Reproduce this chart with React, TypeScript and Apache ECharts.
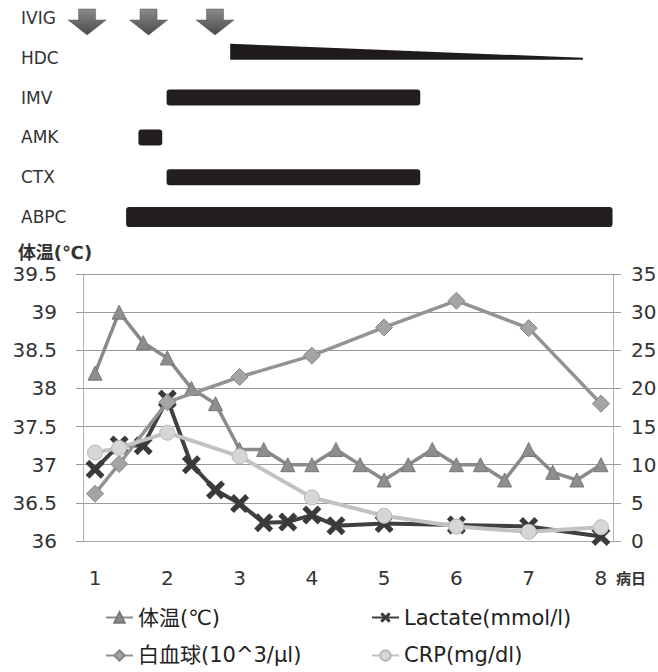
import React, { useEffect, useRef } from 'react';
import * as echarts from 'echarts';

// 22 measurement time points (3 per day, day 8 once)
const timePoints = [
  '1-a', '1-b', '1-c', '2-a', '2-b', '2-c', '3-a', '3-b', '3-c', '4-a', '4-b',
  '4-c', '5-a', '5-b', '5-c', '6-a', '6-b', '6-c', '7-a', '7-b', '7-c', '8-a',
];

const bodyTemp = [38.2, 39.0, 38.6, 38.4, 38.0, 37.8, 37.2, 37.2, 37.0, 37.0, 37.2,
  37.0, 36.8, 37.0, 37.2, 37.0, 37.0, 36.8, 37.2, 36.9, 36.8, 37.0];

const lactate = [9.4, 12.6, 12.5, 18.6, 10.0, 6.7, 4.9, 2.4, 2.5, 3.4, 2.0,
  null, 2.3, null, null, 2.1, null, null, 1.9, null, null, 0.6];

const wbc = [6.2, 10.1, null, 18.2, null, null, 21.5, null, null, 24.3, null,
  null, 28.0, null, null, 31.5, null, null, 27.9, null, null, 18.0];

const crp = [11.6, 12.2, null, 14.2, null, null, 11.1, null, null, 5.7, null,
  null, 3.3, null, null, 1.9, null, null, 1.2, null, null, 1.8];

const seriesNames = ['体温(℃)', 'Lactate(mmol/l)', '白血球(10^3/μl)', 'CRP(mg/dl)'];

// treatment timeline (in day units)
const treatments = ['IVIG', 'HDC', 'IMV', 'AMK', 'CTX', 'ABPC'];
const ivigDays = [0.89, 1.74, 2.66];
const hdcCourse = [2.87, 7.75];
const imvCourse = [1.99, 5.5];
const amkCourse = [1.6, 1.93];
const ctxCourse = [1.99, 5.5];
const abpcCourse = [1.43, 8.16];

const FONT = "'DejaVu Sans', 'Noto Sans CJK JP', sans-serif";
const X_SYMBOL = 'path://M2,0 L5,3 L8,0 L10,2 L7,5 L10,8 L8,10 L5,7 L2,10 L0,8 L3,5 L0,2 Z';

export default function App() {
  const ref = useRef<HTMLDivElement>(null);

  useEffect(() => {
    if (!ref.current) return;
    const chart = echarts.init(ref.current, undefined, { renderer: 'svg' });

    const dayMin = 1 - 0.5 / 3;
    const dayMax = 1 + (timePoints.length - 0.5) / 3;

    const barData = [
      [treatments.indexOf('IMV'), ...imvCourse],
      [treatments.indexOf('AMK'), ...amkCourse],
      [treatments.indexOf('CTX'), ...ctxCourse],
      [treatments.indexOf('ABPC'), ...abpcCourse],
    ];
    const hdcData = [[treatments.indexOf('HDC'), ...hdcCourse]];
    const ivigData = ivigDays.map((d) => [treatments.indexOf('IVIG'), d]);

    const legendText = { fontSize: 21, color: '#222', fontFamily: FONT };

    const option: any = {
      animation: false,
      backgroundColor: '#ffffff',
      textStyle: { fontFamily: FONT },
      grid: [
        { left: 83, right: 45, top: 274, bottom: 131, outerBoundsMode: 'none', containLabel: false },
        { left: 83, right: 45, top: 18, height: 199, outerBoundsMode: 'none', containLabel: false },
      ],
      legend: [
        {
          data: [seriesNames[0], seriesNames[2]],
          orient: 'vertical',
          left: 100,
          top: 602,
          itemWidth: 27,
          itemHeight: 13,
          itemGap: 17,
          textStyle: legendText,
        },
        {
          data: [seriesNames[1], seriesNames[3]],
          orient: 'vertical',
          left: 366,
          top: 602,
          itemWidth: 27,
          itemHeight: 13,
          itemGap: 17,
          textStyle: legendText,
        },
      ],
      xAxis: [
        {
          type: 'category',
          gridIndex: 0,
          data: timePoints,
          boundaryGap: true,
          axisLine: { show: true, lineStyle: { color: '#a8a8a8', width: 1 } },
          axisTick: { show: false },
          axisLabel: {
            interval: (_i: number, v: string) => v.endsWith('-a'),
            formatter: (v: string) => (v.endsWith('-a') ? v.split('-')[0] : ''),
            fontSize: 20,
            color: '#333',
            margin: 27,
            fontFamily: FONT,
          },
          name: '病日',
          nameLocation: 'end',
          nameGap: 3,
          nameTextStyle: {
            fontSize: 15,
            fontWeight: 'bold',
            color: '#333',
            verticalAlign: 'top',
            padding: [30, 0, 0, 0],
            fontFamily: FONT,
          },
        },
        { type: 'value', gridIndex: 1, min: dayMin, max: dayMax, show: false },
      ],
      yAxis: [
        {
          type: 'value',
          gridIndex: 0,
          position: 'left',
          min: 36,
          max: 39.5,
          interval: 0.5,
          axisLine: { show: true, lineStyle: { color: '#b0b0b0' } },
          axisTick: { show: true, length: 7, lineStyle: { color: '#9a9a9a' } },
          splitLine: { show: true, lineStyle: { color: '#9a9a9a', width: 1 } },
          axisLabel: { fontSize: 20, color: '#333', margin: 26, fontFamily: FONT },
          name: '体温(℃)',
          nameLocation: 'end',
          nameGap: 13,
          nameTextStyle: {
            fontSize: 18,
            fontWeight: 'bold',
            color: '#333',
            align: 'center',
            padding: [0, 56, 0, 0],
            fontFamily: FONT,
          },
        },
        {
          type: 'value',
          gridIndex: 0,
          position: 'right',
          min: 0,
          max: 35,
          interval: 5,
          axisLine: { show: true, lineStyle: { color: '#b0b0b0' } },
          axisTick: { show: true, length: 8, lineStyle: { color: '#9a9a9a' } },
          splitLine: { show: false },
          axisLabel: { fontSize: 20, color: '#333', margin: 18, fontFamily: FONT },
        },
        {
          type: 'category',
          gridIndex: 1,
          data: treatments,
          inverse: true,
          boundaryGap: false,
          axisLine: { show: false },
          axisTick: { show: false },
          splitLine: { show: false },
          axisLabel: { align: 'left', margin: 62, fontSize: 17, color: '#333', fontFamily: FONT },
        },
      ],
      series: [
        {
          name: seriesNames[0],
          type: 'line',
          xAxisIndex: 0,
          yAxisIndex: 0,
          data: bodyTemp,
          showAllSymbol: true,
          symbol: 'triangle',
          symbolSize: 14,
          lineStyle: { color: '#8a8a8a', width: 3.5 },
          itemStyle: { color: '#8e8e8e', borderColor: '#777', borderWidth: 1 },
          z: 2,
        },
        {
          name: seriesNames[1],
          type: 'line',
          xAxisIndex: 0,
          yAxisIndex: 1,
          data: lactate,
          connectNulls: true,
          showAllSymbol: true,
          symbol: X_SYMBOL,
          symbolSize: 19,
          lineStyle: { color: '#3f3f3f', width: 4 },
          itemStyle: { color: '#3a3a3a' },
          z: 3,
        },
        {
          name: seriesNames[2],
          type: 'line',
          xAxisIndex: 0,
          yAxisIndex: 1,
          data: wbc,
          connectNulls: true,
          showAllSymbol: true,
          symbol: 'diamond',
          symbolSize: 17,
          lineStyle: { color: '#939393', width: 3.5 },
          itemStyle: { color: '#a4a4a4', borderColor: '#858585', borderWidth: 1 },
          z: 4,
        },
        {
          name: seriesNames[3],
          type: 'line',
          xAxisIndex: 0,
          yAxisIndex: 1,
          data: crp,
          connectNulls: true,
          showAllSymbol: true,
          symbol: 'circle',
          symbolSize: 15,
          lineStyle: { color: '#c2c2c2', width: 4 },
          itemStyle: { color: '#d6d6d6', borderColor: '#b8b8b8', borderWidth: 1 },
          z: 5,
        },
        {
          name: 'bars',
          type: 'custom',
          xAxisIndex: 1,
          yAxisIndex: 2,
          data: barData,
          encode: { x: [1, 2], y: 0 },
          renderItem: (_p: any, api: any) => {
            const row = api.value(0);
            const p0 = api.coord([api.value(1), row]);
            const p1 = api.coord([api.value(2), row]);
            const h = row === treatments.indexOf('ABPC') ? 20 : 16;
            return {
              type: 'rect',
              shape: { x: p0[0], y: p0[1] - h / 2, width: p1[0] - p0[0], height: h, r: 3 },
              style: { fill: '#231f20' },
            };
          },
        },
        {
          name: 'hdc',
          type: 'custom',
          xAxisIndex: 1,
          yAxisIndex: 2,
          data: hdcData,
          encode: { x: [1, 2], y: 0 },
          renderItem: (_p: any, api: any) => {
            const row = api.value(0);
            const p0 = api.coord([api.value(1), row]);
            const p1 = api.coord([api.value(2), row]);
            const cy = p0[1] - 6;
            return {
              type: 'polygon',
              shape: {
                points: [
                  [p0[0], cy - 8],
                  [p1[0], cy + 6],
                  [p1[0], cy + 8],
                  [p0[0], cy + 8],
                ],
              },
              style: { fill: '#1f1b1c' },
            };
          },
        },
        {
          name: 'ivig',
          type: 'custom',
          xAxisIndex: 1,
          yAxisIndex: 2,
          data: ivigData,
          encode: { x: 1, y: 0 },
          renderItem: (_p: any, api: any) => {
            const p = api.coord([api.value(1), api.value(0)]);
            const cx = p[0];
            const cy = p[1] + 4;
            return {
              type: 'polygon',
              shape: {
                points: [
                  [cx - 8.5, cy - 13],
                  [cx + 8.5, cy - 13],
                  [cx + 8.5, cy - 2],
                  [cx + 19, cy - 2],
                  [cx, cy + 13],
                  [cx - 19, cy - 2],
                  [cx - 8.5, cy - 2],
                ],
              },
              style: {
                fill: {
                  type: 'linear', x: 0, y: 0, x2: 0, y2: 1,
                  colorStops: [
                    { offset: 0, color: '#8a8a8a' },
                    { offset: 1, color: '#4a4a4a' },
                  ],
                },
                stroke: '#555',
                lineWidth: 0.5,
              },
            };
          },
        },
      ],
    };

    chart.setOption(option);
    return () => chart.dispose();
  }, []);

  return (
    <div
      ref={ref}
      style={{ position: 'fixed', left: 0, top: 0, width: 658, height: 672, background: '#fff' }}
    />
  );
}
